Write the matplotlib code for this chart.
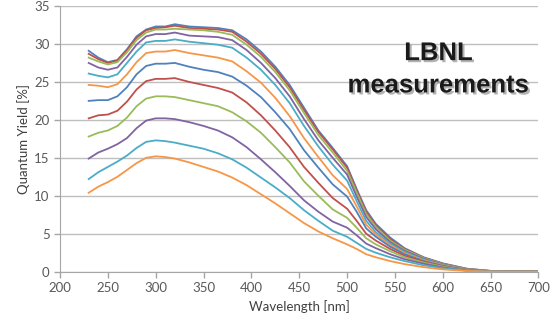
import matplotlib.pyplot as plt
import matplotlib.patheffects as pe

wavelength = [230, 240, 250, 260, 270, 280, 290, 300, 310, 320, 335, 350, 365, 380, 395, 410,
              425, 440, 455, 470, 485, 500, 510, 520, 530, 545, 560, 580, 600, 625, 650, 700]

# quantum yield [%] for each measured curve, top to bottom
qy_01 = [29.1, 28.2, 27.6, 27.9, 29.3, 31.0, 31.9, 32.3, 32.3, 32.6, 32.3, 32.2, 32.1, 31.8, 30.6, 29.0,
         27.0, 24.6, 21.6, 18.6, 16.3, 13.9, 10.9, 8.1, 6.3, 4.5, 3.1, 1.9, 1.1, 0.4, 0.1, 0.0]
qy_02 = [28.7, 28.0, 27.5, 27.8, 29.2, 30.8, 31.8, 32.1, 32.2, 32.4, 32.1, 32.0, 31.9, 31.6, 30.3, 28.7,
         26.7, 24.3, 21.3, 18.4, 16.1, 13.7, 10.7, 7.9, 6.1, 4.3, 3.0, 1.85, 1.05, 0.38, 0.1, 0.0]
qy_03 = [28.2, 27.7, 27.3, 27.6, 28.9, 30.5, 31.5, 31.9, 31.9, 32.0, 31.9, 31.8, 31.6, 31.2, 29.9, 28.3,
         26.3, 23.9, 20.9, 18.0, 15.7, 13.3, 10.4, 7.6, 5.9, 4.1, 2.9, 1.8, 1.0, 0.35, 0.1, 0.0]
qy_04 = [27.5, 26.9, 26.6, 26.9, 28.3, 29.9, 31.0, 31.3, 31.3, 31.5, 31.1, 31.0, 30.9, 30.5, 29.2, 27.5,
         25.5, 23.1, 20.1, 17.3, 15.0, 12.8, 9.9, 7.2, 5.6, 3.9, 2.75, 1.7, 0.95, 0.32, 0.08, 0.0]
qy_05 = [26.1, 25.8, 25.6, 26.0, 27.5, 29.0, 30.2, 30.4, 30.4, 30.6, 30.3, 30.1, 29.9, 29.5, 28.2, 26.6,
         24.6, 22.2, 19.2, 16.5, 14.1, 12.0, 9.3, 6.7, 5.2, 3.7, 2.6, 1.6, 0.9, 0.3, 0.08, 0.0]
qy_06 = [24.6, 24.5, 24.3, 24.7, 26.0, 27.6, 28.8, 29.0, 29.0, 29.2, 28.8, 28.5, 28.2, 27.7, 26.4, 24.9,
         22.9, 20.5, 17.6, 15.1, 12.7, 10.9, 8.6, 6.2, 4.9, 3.5, 2.45, 1.5, 0.85, 0.28, 0.07, 0.0]
qy_07 = [22.5, 22.6, 22.6, 23.1, 24.3, 26.0, 27.1, 27.4, 27.4, 27.5, 27.0, 26.6, 26.3, 25.7, 24.5, 23.0,
         21.0, 18.8, 16.0, 13.7, 11.5, 9.9, 7.9, 5.7, 4.6, 3.3, 2.3, 1.4, 0.78, 0.25, 0.06, 0.0]
qy_08 = [20.2, 20.6, 20.7, 21.2, 22.4, 24.0, 25.1, 25.4, 25.4, 25.5, 25.0, 24.6, 24.2, 23.6, 22.3, 20.6,
         18.6, 16.4, 13.8, 11.7, 9.7, 8.3, 6.7, 5.0, 4.1, 3.0, 2.1, 1.3, 0.7, 0.22, 0.05, 0.0]
qy_09 = [17.8, 18.3, 18.6, 19.2, 20.3, 21.8, 22.8, 23.1, 23.1, 23.0, 22.6, 22.2, 21.8, 21.0, 19.8, 18.3,
         16.4, 14.4, 11.9, 10.0, 8.2, 7.1, 5.8, 4.4, 3.6, 2.7, 1.9, 1.2, 0.65, 0.2, 0.05, 0.0]
qy_10 = [14.9, 15.7, 16.2, 16.8, 17.6, 18.9, 19.9, 20.2, 20.2, 20.1, 19.7, 19.2, 18.6, 17.7, 16.4, 14.8,
         13.1, 11.3, 9.4, 7.9, 6.6, 5.8, 4.8, 3.7, 3.1, 2.3, 1.65, 1.05, 0.55, 0.15, 0.04, 0.0]
qy_11 = [12.2, 13.1, 13.8, 14.5, 15.3, 16.3, 17.1, 17.3, 17.2, 17.0, 16.6, 16.2, 15.6, 14.8, 13.7, 12.4,
         11.1, 9.7, 8.1, 6.7, 5.4, 4.6, 3.8, 3.0, 2.5, 1.9, 1.4, 0.85, 0.45, 0.13, 0.03, 0.0]
qy_12 = [10.4, 11.2, 11.8, 12.5, 13.4, 14.3, 15.0, 15.2, 15.1, 14.9, 14.4, 13.8, 13.2, 12.4, 11.4, 10.2,
         9.0, 7.7, 6.4, 5.3, 4.4, 3.6, 3.0, 2.3, 1.9, 1.4, 1.0, 0.6, 0.3, 0.1, 0.02, 0.0]

curves = [qy_01, qy_02, qy_03, qy_04, qy_05, qy_06,
          qy_07, qy_08, qy_09, qy_10, qy_11, qy_12]
colors = ['#4F81BD', '#C0504D', '#9BBB59', '#8064A2', '#4BACC6', '#F79646',
          '#4F81BD', '#C0504D', '#9BBB59', '#8064A2', '#4BACC6', '#F79646']

fig = plt.figure(figsize=(5.58, 3.26), dpi=100)
ax = fig.add_axes([0.1075, 0.1666, 0.8575, 0.815])

for y, c in zip(curves, colors):
    ax.plot(wavelength, y, color=c, lw=1.3, solid_joinstyle='round')

ax.set_xlim(200, 700)
ax.set_ylim(0, 35)
ax.set_xticks(range(200, 701, 50))
ax.set_yticks(range(0, 36, 5))
ax.yaxis.grid(True, color='#BFBFBF', lw=1.0)
ax.set_axisbelow(True)
for s in ['top', 'right']:
    ax.spines[s].set_visible(False)
for s in ['left', 'bottom']:
    ax.spines[s].set_color('#A6A6A6')
ax.tick_params(axis='both', colors='#A6A6A6', length=4, width=1,
               labelcolor='#595959', labelsize=9.5)
for lab in ax.get_xticklabels() + ax.get_yticklabels():
    lab.set_family('Lato')

ax.set_xlabel('Wavelength [nm]', family='Lato', fontsize=9.5, color='#404040', labelpad=4)
ax.set_ylabel('Quantum Yield [%]', family='Lato', fontsize=9.5, color='#404040', labelpad=3)

shadow = [pe.withSimplePatchShadow(offset=(1.5, -1.5), shadow_rgbFace='#808080', alpha=0.6)]
fig.text(0.786, 0.837, 'LBNL', family='Liberation Sans', weight='bold', fontsize=18.5,
         ha='center', va='center', color='#1A1A1A', path_effects=shadow)
fig.text(0.786, 0.738, 'measurements', family='Liberation Sans', weight='bold', fontsize=18.5,
         ha='center', va='center', color='#1A1A1A', path_effects=shadow)

fig.savefig('out.png', dpi=100)
